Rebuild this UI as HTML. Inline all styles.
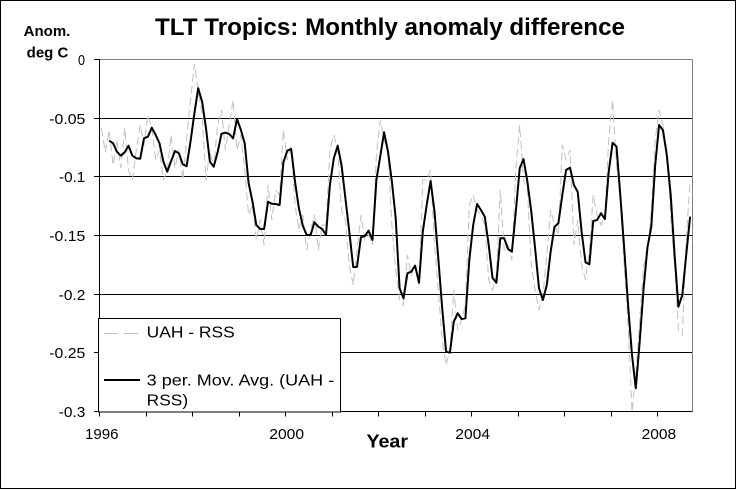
<!DOCTYPE html>
<html><head><meta charset="utf-8"><style>
html,body{margin:0;padding:0;background:#fff;}
svg{display:block;font-family:"Liberation Sans",Arial,sans-serif;}
</style></head><body>
<svg width="737" height="490" viewBox="0 0 737 490" xmlns="http://www.w3.org/2000/svg">
<rect x="0" y="0" width="737" height="490" fill="#fff"/>
<rect x="0.5" y="0.5" width="735" height="488" fill="none" stroke="#000" stroke-width="1"/>
<text x="155" y="35" font-size="24" font-weight="bold" textLength="470" lengthAdjust="spacingAndGlyphs" fill="#000">TLT Tropics: Monthly anomaly difference</text>
<text x="47" y="36" font-size="15" font-weight="bold" text-anchor="middle">Anom.</text>
<text x="47.5" y="57.3" font-size="15" font-weight="bold" text-anchor="middle">deg C</text>
<!-- plot frame -->
<line x1="99.5" y1="59.5" x2="692.5" y2="59.5" stroke="#808080"/>
<line x1="692.5" y1="59.5" x2="692.5" y2="411.5" stroke="#808080"/>
<g stroke="#000" stroke-width="1">
<line x1="99.5" y1="118.5" x2="692" y2="118.5"/>
<line x1="99.5" y1="176.5" x2="692" y2="176.5"/>
<line x1="99.5" y1="235.5" x2="692" y2="235.5"/>
<line x1="99.5" y1="294.5" x2="692" y2="294.5"/>
<line x1="99.5" y1="352.5" x2="692" y2="352.5"/>
<line x1="99.5" y1="59" x2="99.5" y2="412"/>
<line x1="99.5" y1="411.5" x2="692.5" y2="411.5"/>
<line x1="94" y1="59.5" x2="99.5" y2="59.5"/>
<line x1="94" y1="118.5" x2="99.5" y2="118.5"/>
<line x1="94" y1="176.5" x2="99.5" y2="176.5"/>
<line x1="94" y1="235.5" x2="99.5" y2="235.5"/>
<line x1="94" y1="294.5" x2="99.5" y2="294.5"/>
<line x1="94" y1="352.5" x2="99.5" y2="352.5"/>
<line x1="94" y1="411.5" x2="99.5" y2="411.5"/>
<line x1="99.5" y1="411" x2="99.5" y2="416.5"/>
<line x1="146.5" y1="411" x2="146.5" y2="416.5"/>
<line x1="192.5" y1="411" x2="192.5" y2="416.5"/>
<line x1="239.5" y1="411" x2="239.5" y2="416.5"/>
<line x1="285.5" y1="411" x2="285.5" y2="416.5"/>
<line x1="332.5" y1="411" x2="332.5" y2="416.5"/>
<line x1="378.5" y1="411" x2="378.5" y2="416.5"/>
<line x1="425.5" y1="411" x2="425.5" y2="416.5"/>
<line x1="471.5" y1="411" x2="471.5" y2="416.5"/>
<line x1="518.5" y1="411" x2="518.5" y2="416.5"/>
<line x1="564.5" y1="411" x2="564.5" y2="416.5"/>
<line x1="611.5" y1="411" x2="611.5" y2="416.5"/>
<line x1="657.5" y1="411" x2="657.5" y2="416.5"/>
</g>
<g font-size="15" fill="#000">
<text x="78" y="65" textLength="7" lengthAdjust="spacingAndGlyphs">0</text>
<text x="49.3" y="124" textLength="36" lengthAdjust="spacingAndGlyphs">-0.05</text>
<text x="59" y="182" textLength="26.3" lengthAdjust="spacingAndGlyphs">-0.1</text>
<text x="49.3" y="241" textLength="36" lengthAdjust="spacingAndGlyphs">-0.15</text>
<text x="58.7" y="300" textLength="26.6" lengthAdjust="spacingAndGlyphs">-0.2</text>
<text x="49.3" y="358" textLength="36" lengthAdjust="spacingAndGlyphs">-0.25</text>
<text x="58.7" y="417" textLength="26.6" lengthAdjust="spacingAndGlyphs">-0.3</text>
</g>
<g font-size="15" fill="#000">
<text x="85" y="439" textLength="33.5" lengthAdjust="spacingAndGlyphs">1996</text>
<text x="269.3" y="439" textLength="34.7" lengthAdjust="spacingAndGlyphs">2000</text>
<text x="455.3" y="439" textLength="34.7" lengthAdjust="spacingAndGlyphs">2004</text>
<text x="641.7" y="439" textLength="34.5" lengthAdjust="spacingAndGlyphs">2008</text>
</g>
<text x="366.5" y="447.5" font-size="18" font-weight="bold" textLength="41.5" lengthAdjust="spacingAndGlyphs">Year</text>
<!-- gray raw series -->
<polyline fill="none" stroke="#c0c0c0" stroke-width="1" stroke-dasharray="8 4" points="101.4,128 105.3,152 109.2,130 113.1,165 116.9,140 120.8,168 124.7,128 128.5,170 132.4,180 136.3,150 140.2,125 144.0,145 147.9,115 151.8,128 155.7,160 159.5,150 163.4,180 167.3,170 171.1,135 175.0,168 178.9,150 182.8,180 186.6,140 190.5,100 194.4,64 198.2,90 202.1,115 206.0,180 209.9,150 213.7,168 217.6,125 221.5,110 225.4,150 229.2,125 233.1,100 237.0,150 240.9,135 244.7,170 248.6,215 252.5,205 256.3,240 260.2,220 264.1,245 268.0,185 271.8,220 275.7,190 279.6,195 283.4,130 287.3,160 291.2,145 295.1,205 298.9,230 302.8,215 306.7,250 310.6,230 314.4,215 318.3,250 322.2,225 326.0,225 329.9,150 333.8,135 337.7,150 341.5,210 345.4,220 349.3,265 353.2,285 357.0,250 360.9,215 364.8,240 368.6,235 372.5,245 376.4,155 380.3,120 384.1,140 388.0,150 391.9,225 395.7,270 399.6,300 403.5,305 407.4,255 411.2,275 415.1,265 419.0,285 422.8,180 426.7,180 430.6,170 434.5,245 438.3,290 442.2,340 446.1,365 449.9,350 453.8,290 457.7,330 461.6,320 465.4,305 469.3,205 473.2,195 477.1,210 480.9,215 484.8,225 488.7,280 492.5,290 496.4,275 500.3,190 504.2,250 508.0,245 511.9,260 515.8,170 519.7,125 523.5,180 527.4,190 531.3,265 535.1,290 539.0,310 542.9,295 546.8,255 550.6,210 554.5,225 558.4,235 562.3,145 566.1,160 570.0,150 573.9,245 577.7,220 581.6,265 585.5,280 589.4,250 593.2,195 597.1,215 601.0,225 604.9,215 608.7,140 612.6,100 616.5,165 620.3,200 624.2,265 628.1,325 632.0,412 635.8,375 639.7,320 643.6,265 647.4,255 651.3,210 655.2,140 659.1,110 662.9,125 666.8,150 670.7,215 674.6,265 678.4,330 682.3,335 686.2,240 690.1,180"/>
<!-- moving average -->
<polyline fill="none" stroke="#000" stroke-width="2" stroke-linejoin="round" points="109.2,140.7 113.1,143.3 116.9,151.7 120.8,155.7 124.7,152.3 128.5,145.7 132.4,155.7 136.3,158.3 140.2,158.7 144.0,138.3 147.9,136.7 151.8,127.7 155.7,135 159.5,143.3 163.4,161.7 167.3,171.7 171.1,161 175.0,151 178.9,153.3 182.8,164.3 186.6,166.3 190.5,141.7 194.4,113.3 198.2,88.3 202.1,101.7 206.0,128.3 209.9,161.7 213.7,166.7 217.6,152.3 221.5,133.7 225.4,132.7 229.2,134 233.1,138.3 237.0,119 240.9,130 244.7,143.3 248.6,183 252.5,201.7 256.3,225 260.2,229 264.1,229 268.0,201.7 271.8,203.7 275.7,204 279.6,205 283.4,162.3 287.3,150.7 291.2,149 295.1,182.3 298.9,208.3 302.8,225.7 306.7,235 310.6,235 314.4,222.3 318.3,226.7 322.2,229 326.0,235 329.9,185 333.8,158.3 337.7,145.7 341.5,165 345.4,198.3 349.3,231.7 353.2,267 357.0,267 360.9,237.3 364.8,236 368.6,230.7 372.5,240 376.4,180 380.3,156 384.1,132.3 388.0,151.7 391.9,181.7 395.7,218 399.6,288.3 403.5,298.3 407.4,273.3 411.2,271.7 415.1,265.7 419.0,282.7 422.8,231.7 426.7,205 430.6,181 434.5,211.7 438.3,258.3 442.2,308.3 446.1,351.7 449.9,352.7 453.8,321.7 457.7,313.3 461.6,319 465.4,318.3 469.3,260 473.2,225 477.1,204 480.9,210 484.8,216.7 488.7,245 492.5,277.7 496.4,282.7 500.3,238.3 504.2,238.3 508.0,249 511.9,251.7 515.8,211.7 519.7,168.3 523.5,159 527.4,181.7 531.3,211.7 535.1,248.3 539.0,288.3 542.9,300 546.8,285 550.6,252 554.5,226.7 558.4,223.3 562.3,195 566.1,170 570.0,167.7 573.9,185 577.7,191.7 581.6,231.7 585.5,262.3 589.4,264.3 593.2,221 597.1,220 601.0,213.3 604.9,219 608.7,171.7 612.6,142.7 616.5,146.7 620.3,195 624.2,248.3 628.1,305 632.0,355 635.8,388.3 639.7,341.7 643.6,288.3 647.4,247.7 651.3,226.7 655.2,165 659.1,125 662.9,130 666.8,155 670.7,195 674.6,255 678.4,306.7 682.3,295 686.2,255 690.1,216.7"/>
<!-- legend -->
<rect x="98.5" y="318.5" width="242" height="93.5" fill="#fff" stroke="#000" stroke-width="1"/>
<line x1="104" y1="333.5" x2="140" y2="333.5" stroke="#c0c0c0" stroke-width="1" stroke-dasharray="14 6"/>
<text x="146.7" y="337.5" font-size="16" textLength="88" lengthAdjust="spacingAndGlyphs">UAH - RSS</text>
<line x1="104" y1="380" x2="140" y2="380" stroke="#000" stroke-width="2"/>
<text x="146.7" y="385.5" font-size="16" textLength="187.5" lengthAdjust="spacingAndGlyphs">3 per. Mov. Avg. (UAH -</text>
<text x="146.7" y="405.5" font-size="16" textLength="41.5" lengthAdjust="spacingAndGlyphs">RSS)</text>
</svg>
</body></html>
